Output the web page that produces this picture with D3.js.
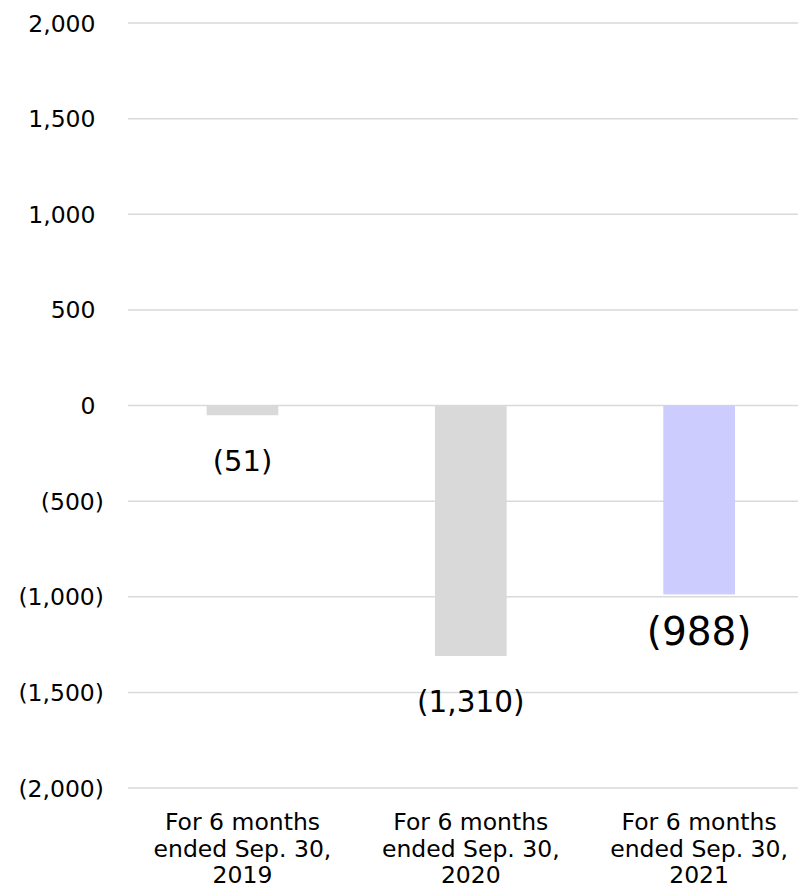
<!DOCTYPE html>
<html>
<head>
<meta charset="utf-8">
<script src="https://cdn.jsdelivr.net/npm/d3@7"></script>
<style>
  html, body { margin: 0; padding: 0; background: #fff; }
  svg { display: block; font-family: "DejaVu Sans", Verdana, sans-serif; }
</style>
</head>
<body>
<svg id="chart" width="798" height="889"></svg>
<script>
// Semi-annual results (millions), three half-year periods
const categories = [
  ["For 6 months", "ended Sep. 30,", "2019"],
  ["For 6 months", "ended Sep. 30,", "2020"],
  ["For 6 months", "ended Sep. 30,", "2021"]
];
const values = [-51, -1310, -988];
const barColors = ["#d9d9d9", "#d9d9d9", "#ccccff"];
const labelSizes = [29, 29.5, 39];
const tickValues = [-2000, -1500, -1000, -500, 0, 500, 1000, 1500, 2000];

const svg = d3.select("#chart");

const x = d3.scaleBand()
  .domain(d3.range(categories.length))
  .range([128.3, 813.3])
  .paddingInner(0.686)
  .paddingOuter(0.343);

const y = d3.scaleLinear().domain([-2000, 2000]).range([788, 23]);

// accounting-style number format: negatives in parentheses
const fmt = v => v < 0 ? "(" + d3.format(",")(-v) + ")" : d3.format(",")(v);

// horizontal gridlines
svg.append("g")
  .selectAll("line")
  .data(tickValues)
  .join("line")
  .attr("x1", 128).attr("x2", 798)
  .attr("y1", d => y(d)).attr("y2", d => y(d))
  .attr("stroke", "#d9d9d9")
  .attr("stroke-width", 1.5);

// y-axis tick labels; digits stay aligned, the closing parenthesis hangs to the right
const yAxis = d3.axisLeft(y).tickValues(tickValues).tickFormat(fmt).tickSize(0).tickPadding(0);
const gy = svg.append("g").attr("transform", "translate(95.5,0)").call(yAxis);
gy.select(".domain").remove();
gy.selectAll("text")
  .attr("font-family", "DejaVu Sans, Verdana, sans-serif")
  .attr("font-size", 23.5)
  .attr("dy", "0.34em")
  .attr("dx", d => d < 0 ? 8.5 : 0)
  .attr("fill", "#000");

// bars
svg.append("g")
  .selectAll("rect")
  .data(values)
  .join("rect")
  .attr("x", (d, i) => x(i))
  .attr("width", x.bandwidth())
  .attr("y", d => y(Math.max(0, d)))
  .attr("height", d => Math.abs(y(d) - y(0)))
  .attr("fill", (d, i) => barColors[i]);

// value labels below each bar
svg.append("g")
  .selectAll("text")
  .data(values)
  .join("text")
  .attr("x", (d, i) => x(i) + x.bandwidth() / 2)
  .attr("y", (d, i) => y(d) + (i === 2 ? 51 : 56))
  .attr("text-anchor", "middle")
  .attr("font-size", (d, i) => labelSizes[i])
  .attr("fill", "#000")
  .text(fmt);

// category labels (three lines each)
const cat = svg.append("g")
  .selectAll("text")
  .data(categories)
  .join("text")
  .attr("text-anchor", "middle")
  .attr("font-size", 23.5)
  .attr("fill", "#000");
cat.selectAll("tspan")
  .data((d, i) => d.map(t => ({ t, i })))
  .join("tspan")
  .attr("x", d => x(d.i) + x.bandwidth() / 2)
  .attr("y", (d, j) => 830 + j * 26.5)
  .text(d => d.t);
</script>
</body>
</html>
